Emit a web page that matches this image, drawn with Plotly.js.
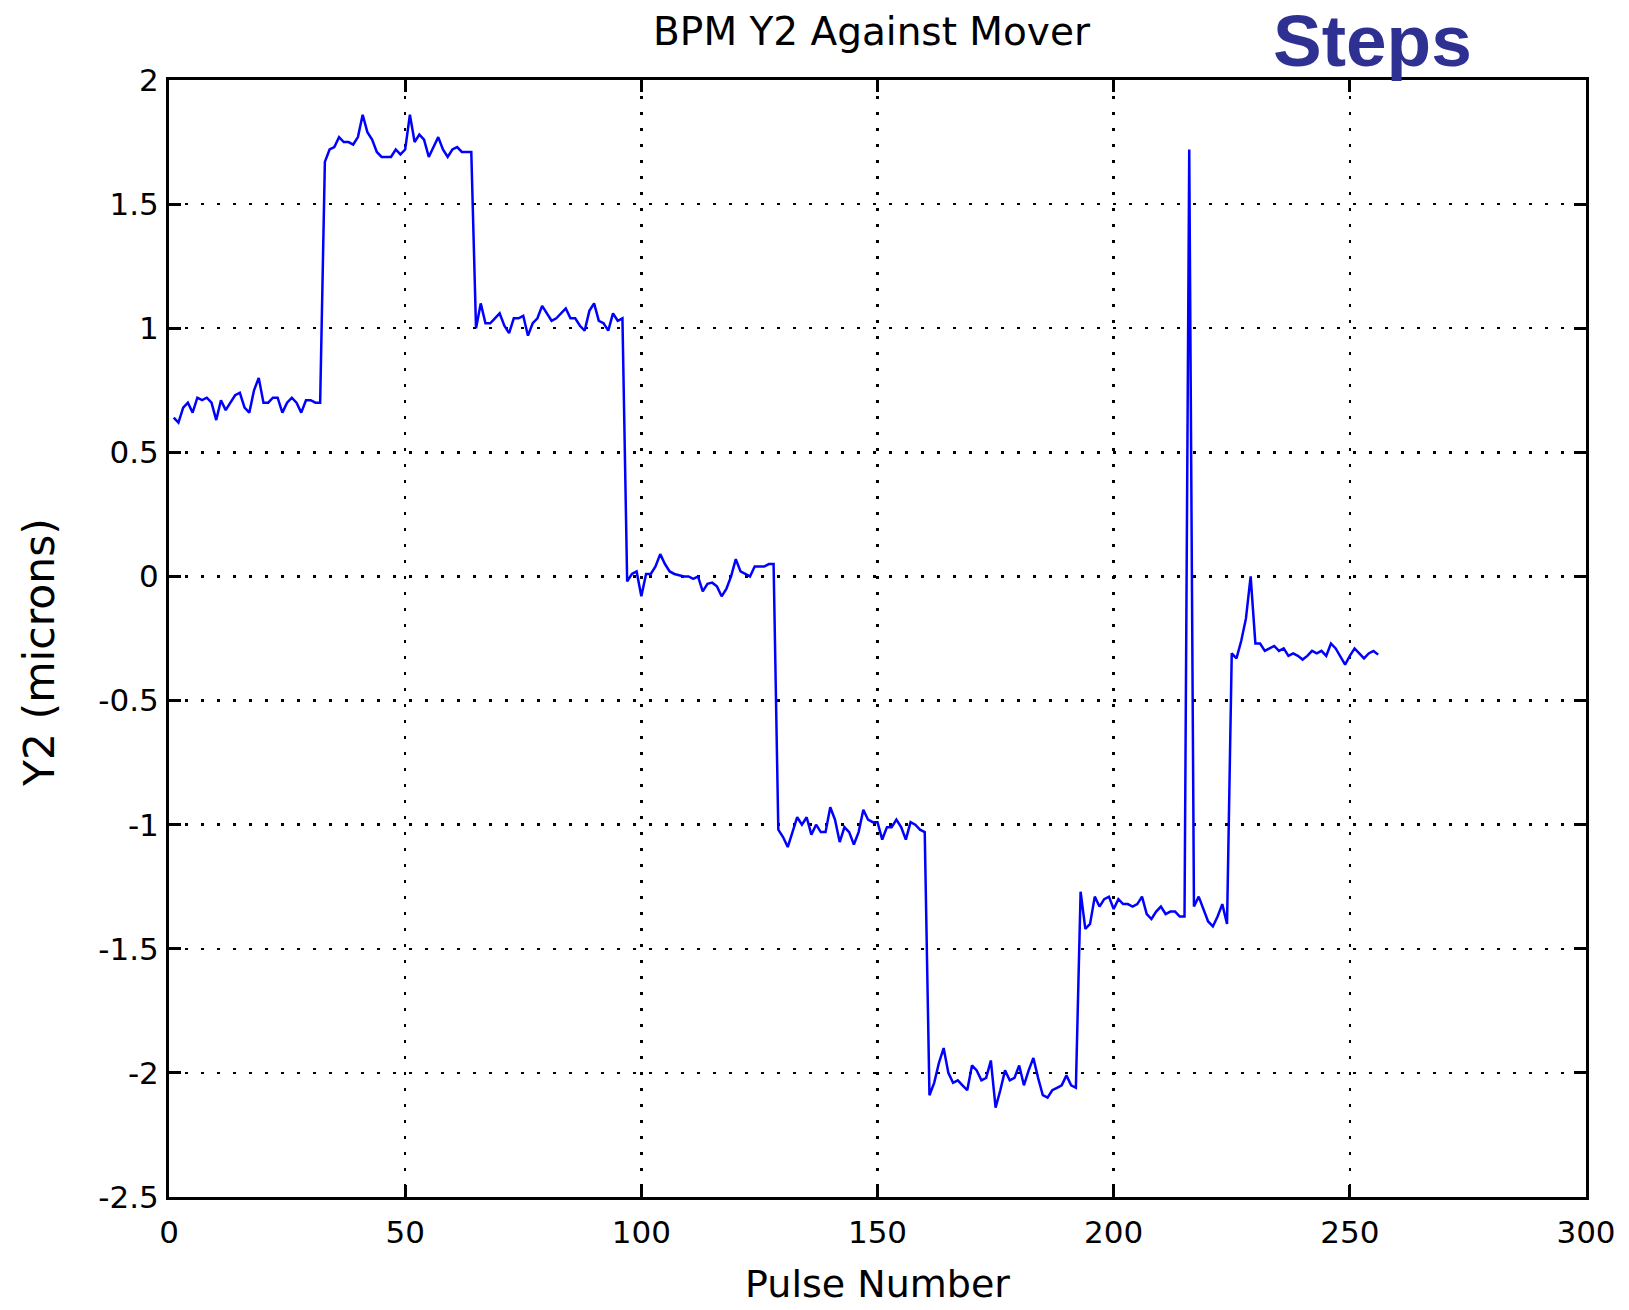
<!DOCTYPE html>
<html>
<head>
<meta charset="utf-8">
<script src="https://cdn.plot.ly/plotly-3.0.1.min.js"></script>
<style>
  html, body { margin: 0; padding: 0; background: #ffffff; }
  #chart { width: 1629px; height: 1310px; }
</style>
</head>
<body>
<div id="chart"></div>
<script>
// BPM Y2 readings (microns), one value per pulse, grouped by mover step.
const y2Step1 = [0.64, 0.62, 0.68, 0.70, 0.66, 0.72, 0.71, 0.72, 0.70, 0.63,
                 0.71, 0.67, 0.70, 0.73, 0.74, 0.68, 0.66, 0.75, 0.80, 0.70,
                 0.70, 0.72, 0.72, 0.66, 0.70, 0.72, 0.70, 0.66, 0.71, 0.71,
                 0.70, 0.70];
const y2Step2 = [1.67, 1.72, 1.73, 1.77, 1.75, 1.75, 1.74, 1.77, 1.86, 1.79,
                 1.76, 1.71, 1.69, 1.69, 1.69, 1.72, 1.70, 1.72, 1.86, 1.75,
                 1.78, 1.76, 1.69, 1.73, 1.77, 1.72, 1.69, 1.72, 1.73, 1.71,
                 1.71, 1.71];
const y2Step3 = [1.00, 1.10, 1.02, 1.02, 1.04, 1.06, 1.01, 0.98, 1.04, 1.04,
                 1.05, 0.97, 1.02, 1.04, 1.09, 1.06, 1.03, 1.04, 1.06, 1.08,
                 1.04, 1.04, 1.01, 0.99, 1.07, 1.10, 1.03, 1.02, 0.99, 1.06,
                 1.03, 1.04];
const y2Step4 = [-0.02, 0.01, 0.02, -0.08, 0.01, 0.01, 0.04, 0.09, 0.05, 0.02,
                 0.01, 0.005, 0.00, 0.00, -0.01, 0.00, -0.06, -0.03, -0.025, -0.04,
                 -0.08, -0.05, 0.00, 0.07, 0.02, 0.01, 0.00, 0.04, 0.04, 0.04,
                 0.05, 0.05];
const y2Step5 = [-1.02, -1.05, -1.09, -1.03, -0.97, -1.00, -0.97, -1.04, -1.00, -1.03,
                 -1.03, -0.93, -0.98, -1.07, -1.01, -1.03, -1.08, -1.03, -0.94, -0.98,
                 -0.99, -0.99, -1.06, -1.01, -1.01, -0.98, -1.01, -1.06, -0.99, -1.00,
                 -1.02, -1.03];
const y2Step6 = [-2.09, -2.04, -1.96, -1.90, -2.00, -2.04, -2.03, -2.05, -2.07, -1.97,
                 -1.99, -2.03, -2.02, -1.95, -2.14, -2.07, -1.99, -2.03, -2.02, -1.97,
                 -2.05, -1.99, -1.94, -2.02, -2.09, -2.10, -2.07, -2.06, -2.05, -2.01,
                 -2.05, -2.06];
const y2Step7 = [-1.27, -1.42, -1.40, -1.29, -1.33, -1.30, -1.29, -1.34, -1.30, -1.32,
                 -1.32, -1.33, -1.32, -1.29, -1.36, -1.38, -1.35, -1.33, -1.36, -1.35,
                 -1.35, -1.37, -1.37, 1.72, -1.33, -1.29, -1.34, -1.39, -1.41, -1.37,
                 -1.32, -1.40];
const y2Step8 = [-0.31, -0.33, -0.26, -0.17, 0.00, -0.27, -0.27, -0.30, -0.29, -0.28,
                 -0.30, -0.29, -0.32, -0.31, -0.32, -0.335, -0.32, -0.30, -0.31, -0.30,
                 -0.32, -0.27, -0.29, -0.32, -0.355, -0.32, -0.29, -0.31, -0.33, -0.31,
                 -0.30, -0.315];

// Axis ticks
const xTickVals = [0, 50, 100, 150, 200, 250, 300];
const xTickText = ['0', '50', '100', '150', '200', '250', '300'];
const yTickVals = [-2.5, -2, -1.5, -1, -0.5, 0, 0.5, 1, 1.5, 2];
const yTickText = ['-2.5', '-2', '-1.5', '-1', '-0.5', '0', '0.5', '1', '1.5', '2'];

const y2 = [].concat(y2Step1, y2Step2, y2Step3, y2Step4,
                     y2Step5, y2Step6, y2Step7, y2Step8);
const pulse = y2.map((_, i) => i + 1);

const labelFont = 'DejaVu Sans, Liberation Sans, Arial, sans-serif';

const axisCommon = {
  showline: true,
  linecolor: '#000000',
  linewidth: 3,
  mirror: 'allticks',
  ticks: 'inside',
  ticklen: 12,
  tickwidth: 3,
  tickcolor: '#000000',
  showgrid: true,
  gridcolor: '#000000',
  gridwidth: 2.5,
  griddash: '3px,13px',
  zeroline: false,
  tickmode: 'array',
  tickfont: { family: labelFont, size: 31, color: '#000000' },
  fixedrange: true
};

const trace = {
  type: 'scatter',
  mode: 'lines',
  x: pulse,
  y: y2,
  line: { color: '#0000ff', width: 2.5 },
  hoverinfo: 'x+y'
};

const layout = {
  width: 1629,
  height: 1310,
  margin: { l: 169, r: 43, t: 80, b: 113 },
  paper_bgcolor: '#ffffff',
  plot_bgcolor: '#ffffff',
  showlegend: false,
  title: {
    text: 'BPM Y2 Against Mover',
    font: { family: labelFont, size: 39, color: '#000000' },
    x: 0.4958,
    xref: 'paper',
    xanchor: 'center',
    y: 0.9763,
    yref: 'container',
    yanchor: 'middle'
  },
  xaxis: Object.assign({}, axisCommon, {
    range: [0, 300],
    tickvals: xTickVals,
    ticktext: xTickText,
    ticklabelstandoff: 6,
    title: { text: 'Pulse Number', font: { family: labelFont, size: 38, color: '#000000' }, standoff: 22 }
  }),
  yaxis: Object.assign({}, axisCommon, {
    range: [-2.5, 2],
    tickvals: yTickVals,
    ticktext: yTickText,
    ticklabelstandoff: 1
  }),
  annotations: [
    {
      // y-axis label
      text: 'Y2 (microns)',
      textangle: -90,
      xref: 'paper',
      yref: 'paper',
      x: -0.0914,
      y: 0.4875,
      xanchor: 'center',
      yanchor: 'middle',
      showarrow: false,
      font: { family: labelFont, size: 42.5, color: '#000000' }
    },
    {
      text: '<b>Steps</b>',
      xref: 'paper',
      yref: 'paper',
      x: 0.849,
      y: 1.0358,
      xanchor: 'center',
      yanchor: 'middle',
      showarrow: false,
      font: { family: 'Liberation Sans, Arial, sans-serif', size: 73, color: '#2e3192' }
    }
  ]
};

Plotly.newPlot('chart', [trace], layout, { displayModeBar: false, staticPlot: true });
</script>
</body>
</html>
